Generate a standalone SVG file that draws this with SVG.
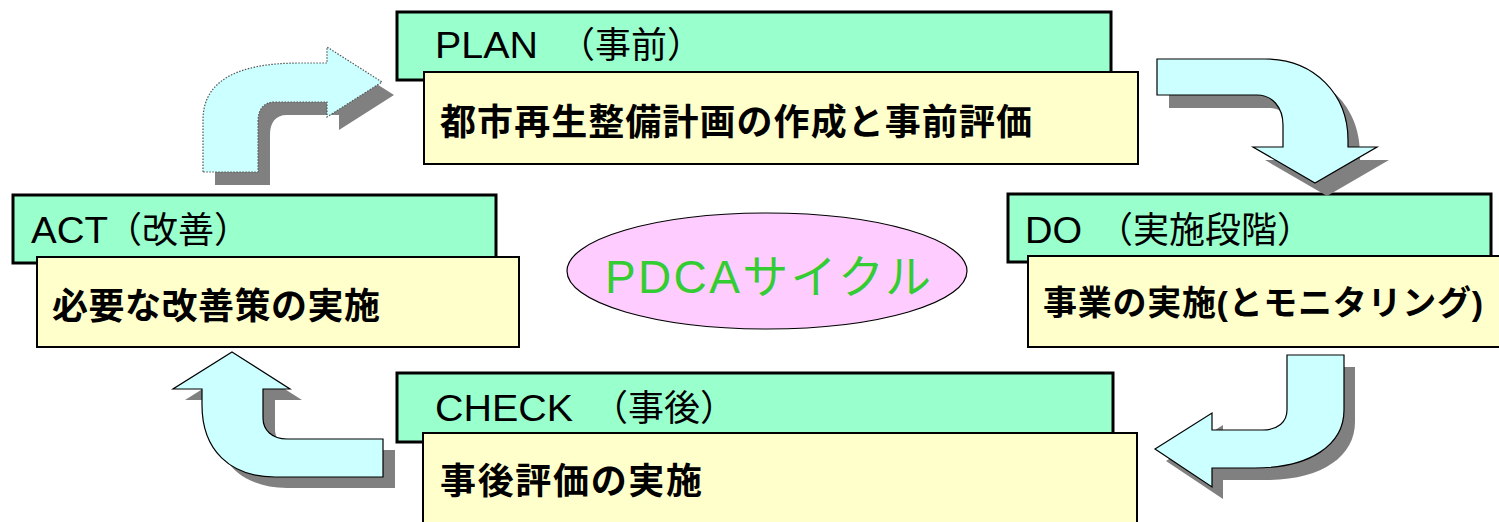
<svg xmlns="http://www.w3.org/2000/svg" width="1499" height="522" viewBox="0 0 1499 522">
<style>
.hd{fill:#99FFCC;stroke:#000;stroke-width:3}
.bd{fill:#FFFFCC;stroke:#000;stroke-width:2}
.t{font-family:"Liberation Sans","Noto Sans CJK JP",sans-serif;fill:#000}
.h{font-size:36px}
.b{font-size:36px;font-weight:bold}
.arr{fill:#CCFFFF;stroke:#000;stroke-width:1.2;stroke-linejoin:miter}
.dot{stroke:#555;stroke-dasharray:1.5 1.5}
.sh{fill:#808080}
</style>
<rect width="1499" height="522" fill="#fff"/>
<g id="plan">
<rect class="hd" x="397" y="12" width="714" height="68"/>
<rect class="bd" x="424" y="72" width="714" height="92"/>
<text class="t h" y="58"><tspan x="435" textLength="103" lengthAdjust="spacingAndGlyphs">PLAN</tspan><tspan x="559">（事前）</tspan></text>
<text class="t b" x="440" y="135" textLength="592" lengthAdjust="spacing">都市再生整備計画の作成と事前評価</text>
</g>
<g id="do">
<rect class="hd" x="1008" y="194" width="483" height="68"/>
<rect class="bd" x="1028" y="256" width="474" height="91"/>
<text class="t h" y="243"><tspan x="1025" textLength="57" lengthAdjust="spacingAndGlyphs">DO</tspan><tspan x="1097">（実施段階）</tspan></text>
<text class="t b" x="1043" y="315" style="font-size:34px" textLength="440" lengthAdjust="spacing">事業の実施(とモニタリング)</text>
</g>
<g id="check">
<rect class="hd" x="397" y="373" width="716" height="69"/>
<rect class="bd" x="423" y="433" width="714" height="95"/>
<text class="t h" y="421"><tspan x="435" textLength="138" lengthAdjust="spacingAndGlyphs">CHECK</tspan><tspan x="592">（事後）</tspan></text>
<text class="t b" x="440" y="494" textLength="262" lengthAdjust="spacing">事後評価の実施</text>
</g>
<g id="act">
<rect class="hd" x="13" y="195" width="483" height="68"/>
<rect class="bd" x="37" y="257" width="482" height="90"/>
<text class="t h" y="243"><tspan x="31" textLength="77" lengthAdjust="spacingAndGlyphs">ACT</tspan><tspan x="106">（改善）</tspan></text>
<text class="t b" x="52" y="319" textLength="328" lengthAdjust="spacing">必要な改善策の実施</text>
</g>
<g id="center">
<ellipse cx="767" cy="271" rx="200" ry="58" fill="#FFCCFF" stroke="#000" stroke-width="1.2"/>
<text class="t" x="605" y="293" style="font-size:46px;fill:#33CC33" textLength="326" lengthAdjust="spacing">PDCAサイクル</text>
</g>
<g id="connectors">
<g id="act-plan">
<path class="sh" transform="translate(12,13)" d="M203,172 L203,120 C203,82 235,63 300,63 L327,63 L327,47 L382,82 L327,117 L327,102 L275,102 C263,102 258,110 258,122 L258,172 Z"/>
<path class="arr dot" d="M203,172 L203,120 C203,82 235,63 300,63 L327,63 L327,47 L382,82 L327,117 L327,102 L275,102 C263,102 258,110 258,122 L258,172 Z"/>
</g>
<g id="plan-do">
<path class="sh" transform="translate(12,13)" d="M1157,59 L1265,59 C1315,59 1348,95 1348,140 L1348,147 L1377,147 L1315,183 L1253,147 L1283,147 L1283,125 C1283,107 1272,95 1257,95 L1157,95 Z"/>
<path class="arr" d="M1157,59 L1265,59 C1315,59 1348,95 1348,140 L1348,147 L1377,147 L1315,183 L1253,147 L1283,147 L1283,125 C1283,107 1272,95 1257,95 L1157,95 Z"/>
</g>
<g id="do-check">
<path class="sh" transform="translate(11,12)" d="M1287,355 L1344,355 L1344,410 C1344,445 1310,468 1255,468 L1212,468 L1212,487 L1155,449 L1212,413 L1212,430 L1262,430 C1278,430 1287,422 1287,410 Z"/>
<path class="arr" d="M1287,355 L1344,355 L1344,410 C1344,445 1310,468 1255,468 L1212,468 L1212,487 L1155,449 L1212,413 L1212,430 L1262,430 C1278,430 1287,422 1287,410 Z"/>
</g>
<g id="check-act">
<path class="sh" transform="translate(12,11)" d="M232,352 L290,389 L263,389 L263,418 C263,430 272,439 287,439 L383,439 L383,477 L275,477 C230,477 202,450 202,405 L202,389 L173,389 Z"/>
<path class="arr" d="M232,352 L290,389 L263,389 L263,418 C263,430 272,439 287,439 L383,439 L383,477 L275,477 C230,477 202,450 202,405 L202,389 L173,389 Z"/>
</g>
</g>
</svg>
